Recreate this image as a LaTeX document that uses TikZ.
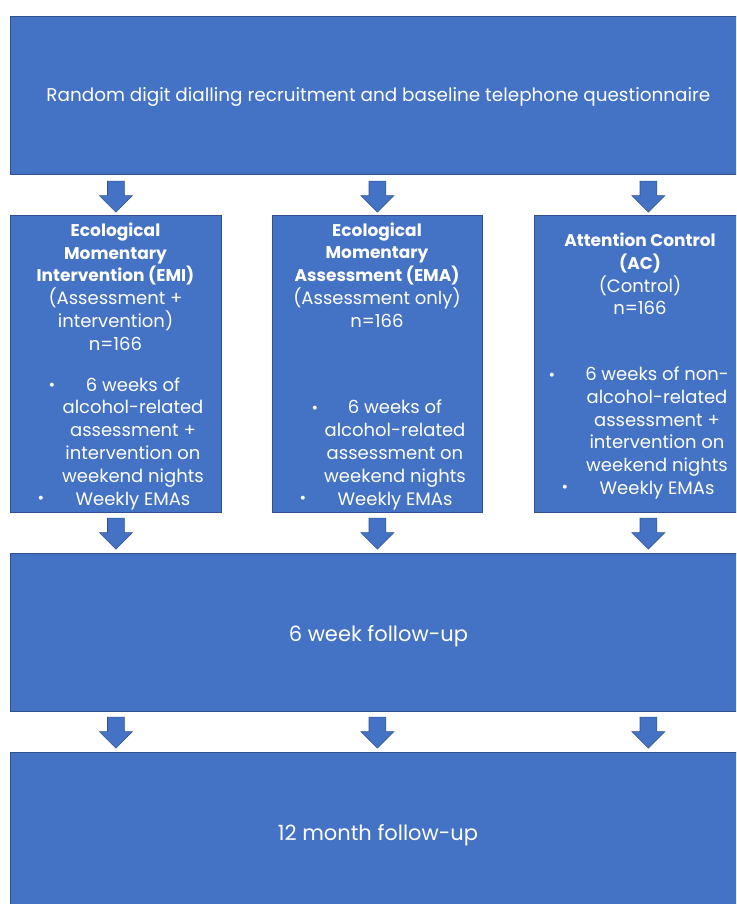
\documentclass[tikz,border=0pt]{standalone}
\usepackage{fontspec}
\setmainfont{Poppins}
\usetikzlibrary{shapes.arrows, positioning}
\definecolor{boxblue}{HTML}{4472C4}
\definecolor{boxline}{HTML}{2F528F}
\newcommand{\headline}[1]{{\fontsize{17}{22.8}\selectfont\bfseries #1}}
\tikzset{stagebox/.style={rectangle, draw=boxline, fill=boxblue, line width=0.8pt, inner sep=0pt, anchor=north west}}
\tikzset{flowarrow/.style={single arrow, shape border rotate=270, draw=boxline, fill=boxblue, line width=0.6pt, inner sep=8pt, minimum height=31pt, minimum width=33pt, single arrow head extend=8pt, anchor=tail}}
\tikzset{boxtext/.style={text=white, align=center, inner sep=0pt, font=\fontsize{18}{22.8}\selectfont}}
\tikzset{bigtext/.style={boxtext, font=\fontsize{21}{25}\selectfont}}
\tikzset{bulletdot/.style={text=white, inner sep=0pt, font=\fontsize{16}{16}\selectfont}}

\begin{document}
\begin{tikzpicture}[x=1pt, y=-1pt]
  \useasboundingbox (0,0) rectangle (736,904);
  \clip (0,0) rectangle (736,904);
  % stages
  \node[stagebox, minimum width=736pt, minimum height=158pt] (recruit) at (10,16) {};
  \node[stagebox, minimum width=211pt, minimum height=297pt] (emi) at (10,215) {};
  \node[stagebox, minimum width=210pt, minimum height=297pt] (ema) at (272,215) {};
  \node[stagebox, minimum width=212pt, minimum height=297pt] (ac) at (534,215) {};
  \node[stagebox, minimum width=736pt, minimum height=158pt] (week6) at (10,553) {};
  \node[stagebox, minimum width=736pt, minimum height=170pt] (month12) at (10,752) {};
  % texts
  \node[boxtext, font=\fontsize{18.4}{22.8}\selectfont] (recruittext) at ([yshift=-2pt]recruit.center) {Random digit dialling recruitment and baseline telephone questionnaire};
  \node[boxtext] (emihead) at (115.5,286.5) {\headline{Ecological}\\\headline{Momentary}\\\headline{Intervention (EMI)}\\(Assessment +\\intervention)\\n=166};
  \node[boxtext] (emilist) at (133,443.5) {6 weeks of\\alcohol-related\\assessment +\\intervention on\\weekend nights\\Weekly EMAs};
  \node[boxtext] (emahead) at (377,275) {\headline{Ecological}\\\headline{Momentary}\\\headline{Assessment (EMA)}\\(Assessment only)\\n=166};
  \node[boxtext] (emalist) at (395,455) {6 weeks of\\alcohol-related\\assessment on\\weekend nights\\Weekly EMAs};
  \node[boxtext] (achead) at (640,274) {\headline{Attention Control}\\\headline{(AC)}\\(Control)\\n=166};
  \node[boxtext] (aclist) at (657,433) {6 weeks of non-\\alcohol-related\\assessment +\\intervention on\\weekend nights\\Weekly EMAs};
  \node[bigtext] (week6text) at ([yshift=-4pt]week6.center) {6 week follow-up};
  \node[bigtext] (month12text) at (378,835) {12 month follow-up};
  % bullets
  \node[bulletdot] (emib1) at (52,387) {•};
  \node[bulletdot] (emib2) at (41,500) {•};
  \node[bulletdot] (emab1) at (315,410) {•};
  \node[bulletdot] (emab2) at (303,500) {•};
  \node[bulletdot] (acb1) at (552,377) {•};
  \node[bulletdot] (acb2) at (565,489) {•};
  % arrows
  \node[flowarrow] (a11) at ([yshift=-6pt]recruit.south -| emi.center) {};
  \node[flowarrow] (a12) at ([yshift=-6pt]recruit.south -| ema.center) {};
  \node[flowarrow] (a13) at ([yshift=-6pt, xshift=8pt]recruit.south -| ac.center) {};
  \node[flowarrow] (a21) at ([yshift=-5pt]emi.south) {};
  \node[flowarrow] (a22) at ([yshift=-5pt]ema.south) {};
  \node[flowarrow] (a23) at ([yshift=-5pt, xshift=8pt]ac.south) {};
  \node[flowarrow] (a31) at ([yshift=-5pt]week6.south -| emi.center) {};
  \node[flowarrow] (a32) at ([yshift=-5pt]week6.south -| ema.center) {};
  \node[flowarrow] (a33) at ([yshift=-5pt, xshift=8pt]week6.south -| ac.center) {};
\end{tikzpicture}
\end{document}
